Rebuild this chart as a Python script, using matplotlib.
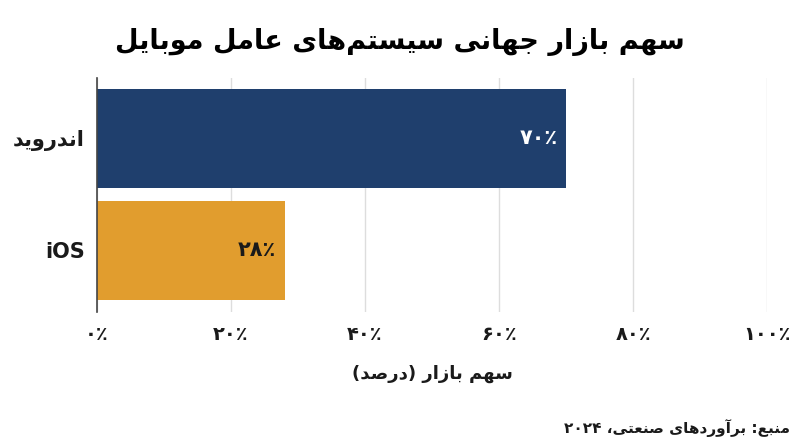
import numpy as np
import matplotlib
matplotlib.use("Agg")
import matplotlib.pyplot as plt

# data
categories = ["اندروید", "iOS"]
shares = [70, 28]
bar_colors = ["#1f3f6d", "#e19d2e"]
label_colors = ["white", "#1a1a1a"]
tick_values = [0, 20, 40, 60, 80, 100]

title = "سهم بازار جهانی سیستم‌های عامل موبایل"
xlabel = "سهم بازار (درصد)"
source = "منبع: برآوردهای صنعتی، ۲۰۲۴"

# small persian shaper: matplotlib has no text shaping, so map letters
# to presentation forms and put them in visual order
# letter: (isolated, final, initial, medial) ; 2 forms => joins only to the right
FORMS = {
    "ا": (0xFE8D, 0xFE8E), "آ": (0xFE81, 0xFE82),
    "ب": (0xFE8F, 0xFE90, 0xFE91, 0xFE92), "پ": (0xFB56, 0xFB57, 0xFB58, 0xFB59),
    "ت": (0xFE95, 0xFE96, 0xFE97, 0xFE98), "ث": (0xFE99, 0xFE9A, 0xFE9B, 0xFE9C),
    "ج": (0xFE9D, 0xFE9E, 0xFE9F, 0xFEA0), "چ": (0xFB7A, 0xFB7B, 0xFB7C, 0xFB7D),
    "ح": (0xFEA1, 0xFEA2, 0xFEA3, 0xFEA4), "خ": (0xFEA5, 0xFEA6, 0xFEA7, 0xFEA8),
    "د": (0xFEA9, 0xFEAA), "ذ": (0xFEAB, 0xFEAC), "ر": (0xFEAD, 0xFEAE),
    "ز": (0xFEAF, 0xFEB0), "ژ": (0xFB8A, 0xFB8B),
    "س": (0xFEB1, 0xFEB2, 0xFEB3, 0xFEB4), "ش": (0xFEB5, 0xFEB6, 0xFEB7, 0xFEB8),
    "ص": (0xFEB9, 0xFEBA, 0xFEBB, 0xFEBC), "ض": (0xFEBD, 0xFEBE, 0xFEBF, 0xFEC0),
    "ط": (0xFEC1, 0xFEC2, 0xFEC3, 0xFEC4), "ظ": (0xFEC5, 0xFEC6, 0xFEC7, 0xFEC8),
    "ع": (0xFEC9, 0xFECA, 0xFECB, 0xFECC), "غ": (0xFECD, 0xFECE, 0xFECF, 0xFED0),
    "ف": (0xFED1, 0xFED2, 0xFED3, 0xFED4), "ق": (0xFED5, 0xFED6, 0xFED7, 0xFED8),
    "ک": (0xFB8E, 0xFB8F, 0xFB90, 0xFB91), "گ": (0xFB92, 0xFB93, 0xFB94, 0xFB95),
    "ل": (0xFEDD, 0xFEDE, 0xFEDF, 0xFEE0), "م": (0xFEE1, 0xFEE2, 0xFEE3, 0xFEE4),
    "ن": (0xFEE5, 0xFEE6, 0xFEE7, 0xFEE8), "و": (0xFEED, 0xFEEE),
    "ه": (0xFEE9, 0xFEEA, 0xFEEB, 0xFEEC), "ی": (0xFBFC, 0xFBFD, 0xFBFE, 0xFBFF),
}
MIRROR = {"(": ")", ")": "(", "[": "]", "]": "["}


def is_ltr(c):
    return c.isdigit() or (c.isascii() and c.isalpha())


def shape(text):
    if not any(c in FORMS for c in text):
        return text
    out = []
    n = len(text)
    for i, ch in enumerate(text):
        if ch == "\u200c":
            continue
        if ch not in FORMS:
            out.append(ch)
            continue
        prev = text[i - 1] if i > 0 else ""
        nxt = text[i + 1] if i + 1 < n else ""
        joins_prev = prev in FORMS and len(FORMS[prev]) == 4
        joins_next = len(FORMS[ch]) == 4 and nxt in FORMS
        f = FORMS[ch]
        if joins_prev and joins_next:
            code = f[3]
        elif joins_prev:
            code = f[1]
        elif joins_next:
            code = f[2]
        else:
            code = f[0]
        out.append(chr(code))
    # visual order: reverse everything, then flip digit / latin runs back
    vis = [MIRROR.get(c, c) for c in reversed(out)]
    res, run = [], []
    for c in vis:
        if is_ltr(c) or (run and c in "٪%"):
            run.append(c)
        else:
            if run:
                res.extend(reversed(run))
                run = []
            res.append(c)
    res.extend(reversed(run))
    return "".join(res)


def fa_num(v):
    return "".join("۰۱۲۳۴۵۶۷۸۹"[int(d)] for d in str(v)) + "٪"


plt.rcParams["font.family"] = ["DejaVu Sans"]
plt.rcParams["font.weight"] = "bold"
text_color = "#1a1a1a"

fig = plt.figure(figsize=(8, 4.47), dpi=100)
ax = fig.add_axes([0.1213, 0.302, 0.8375, 0.5235])

y = np.arange(len(categories))
ax.barh(y, shares, height=0.88, color=bar_colors, zorder=2)
for yi, v, c in zip(y, shares, label_colors):
    ax.text(v - 1.3, yi, fa_num(v), ha="right", va="center", color=c,
            fontsize=15, fontweight="bold", zorder=3)

ax.set_xlim(0, 100)
ax.set_ylim(1.55, -0.54)
ax.set_yticks(y)
ax.set_yticklabels([shape(c) for c in categories], fontsize=15,
                   fontweight="bold", color=text_color)
ax.set_xticks(tick_values)
ax.set_xticklabels([fa_num(t) for t in tick_values], fontsize=14,
                   fontweight="bold", color=text_color)
ax.tick_params(axis="y", length=0, pad=9)
ax.tick_params(axis="x", length=0, pad=9)
ax.grid(axis="x", color="#dddddd", linewidth=1, zorder=0)
for s in ["top", "right", "bottom"]:
    ax.spines[s].set_visible(False)
ax.spines["left"].set_color("#444444")
ax.spines["left"].set_linewidth(1.2)
ax.spines["left"].set_zorder(3)

ax.set_xlabel(shape(xlabel), fontsize=13, fontweight="bold",
              color=text_color, labelpad=15)
fig.text(0.5, 0.905, shape(title), ha="center", va="center", fontsize=19.5,
         fontweight="bold", color="black")
fig.text(0.9875, 0.042, shape(source), ha="right", va="center", fontsize=11,
         fontweight="bold", color=text_color)

fig.savefig("out.png", dpi=100, facecolor="white")
